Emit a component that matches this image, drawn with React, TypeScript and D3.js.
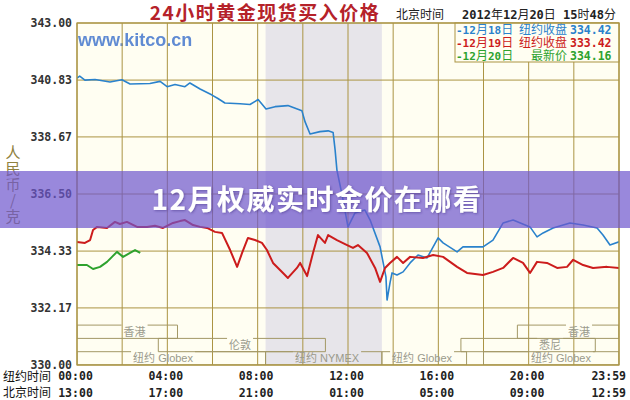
import React, { useMemo } from 'react';
import * as d3 from 'd3';

// ---------- data ----------
const yTickValues = [330, 332.17, 334.33, 336.5, 338.67, 340.83, 343];
const yTickLabels = ['330.00', '332.17', '334.33', '336.50', '338.67', '340.83', '343.00'];
const xGridHours = [0, 2, 4, 6, 8, 10, 12, 14, 16, 18, 20, 22, 24];
const xLabelHours = [0, 4, 8, 12, 16, 20, 24];
const nyLabels = ['00:00', '04:00', '08:00', '12:00', '16:00', '20:00', '23:59'];
const bjLabels = ['13:00', '17:00', '21:00', '01:00', '05:00', '09:00', '12:59'];

// [NY hour, price]
const dec18: [number, number][] = [
  [0, 340.91], [0.12, 340.98], [0.35, 340.83], [0.8, 340.85], [1.46, 340.76], [1.99, 340.84],
  [2.35, 340.68], [3.23, 340.7], [3.68, 340.78], [3.99, 340.58], [4.34, 340.66], [4.78, 340.58],
  [5.0, 340.72], [5.45, 340.49], [5.98, 340.26], [6.24, 340.13], [6.55, 339.96], [7.22, 339.93],
  [7.66, 339.9], [8.02, 340.09], [8.37, 339.73], [8.77, 339.82], [9.34, 339.86], [9.96, 339.66],
  [10.1, 339.24], [10.32, 338.78], [10.76, 338.87], [11.12, 338.9], [11.34, 338.84], [11.43, 338.17],
  [11.51, 337.41], [11.74, 336.46], [12.0, 335.25], [12.31, 335.78], [12.75, 335.89], [12.98, 335.51],
  [13.42, 334.49], [13.68, 333.35], [13.73, 332.47], [13.86, 333.12], [13.95, 333.5], [14.17, 333.42],
  [14.44, 333.54], [14.75, 333.88], [15.1, 334.18], [15.5, 334.07], [15.99, 334.83], [16.21, 334.64],
  [16.83, 334.3], [17.09, 334.49], [17.98, 334.49], [18.42, 334.75], [18.87, 335.4], [19.31, 335.51],
  [20.06, 335.25], [20.37, 334.87], [20.64, 335.02], [21.08, 335.21], [21.83, 335.4], [22.41, 335.32],
  [23.03, 335.21], [23.29, 334.94], [23.6, 334.56], [24, 334.68],
];
const dec19: [number, number][] = [
  [0, 334.68], [0.35, 334.64], [0.58, 334.75], [0.71, 335.13], [0.89, 335.25], [1.33, 335.21],
  [1.68, 335.44], [1.9, 335.36], [2.21, 335.44], [2.66, 335.25], [3.1, 335.25], [3.45, 335.29],
  [3.81, 335.21], [4.25, 335.4], [4.56, 335.47], [4.78, 335.51], [5.14, 335.32], [5.45, 335.25],
  [5.76, 335.21], [6.11, 335.06], [6.42, 335.02], [6.78, 334.37], [7.09, 333.73], [7.31, 334.26],
  [7.57, 334.83], [7.88, 334.75], [8.19, 334.64], [8.41, 334.37], [8.68, 333.88], [8.99, 333.61],
  [9.34, 333.31], [9.74, 333.69], [9.88, 333.88], [10.19, 333.38], [10.45, 334.26], [10.67, 334.94],
  [10.98, 334.64], [11.12, 334.94], [11.51, 334.75], [11.96, 334.56], [12.22, 334.45], [12.44, 334.56],
  [12.84, 334.26], [13.2, 333.69], [13.42, 333.16], [13.64, 333.69], [13.86, 333.88], [14.17, 334.11],
  [14.44, 333.88], [14.75, 334.11], [15.32, 334.07], [15.77, 334.18], [16.21, 334.11], [16.83, 333.73],
  [17.27, 333.5], [17.98, 333.42], [18.42, 333.54], [18.87, 333.69], [19.31, 334.07], [19.75, 333.88],
  [20.06, 333.5], [20.37, 333.92], [20.81, 333.88], [21.26, 333.69], [21.7, 333.73], [21.97, 334.0],
  [22.41, 333.8], [22.85, 333.69], [23.47, 333.73], [24, 333.69],
];
const dec20: [number, number][] = [
  [0, 333.8], [0.44, 333.8], [0.71, 333.65], [1.02, 333.73], [1.33, 333.92], [1.55, 334.11],
  [1.77, 334.3], [2.04, 334.11], [2.35, 334.26], [2.57, 334.37], [2.8, 334.26],
];

const legendDates = ['-12月18日', '-12月19日', '-12月20日'];
const legendNames = ['纽约收盘', '纽约收盘', '最新价'];
const legendValues = ['334.42', '333.42', '334.16'];

// trading sessions (NY hours)
const sessionNames = ['香港', '香港', '伦敦', '纽约 Globex', '纽约 NYMEX', '纽约 Globex', '悉尼', '纽约 Globex'];
const sessionRows = [0, 0, 1, 2, 2, 2, 1, 2];
const sessionStarts = [0, 19.5, 3.6, 0, 8.35, 13.5, 17.0, 18.0];
const sessionEnds = [4.45, 24, 11.0, 8.35, 13.5, 17.25, 22.95, 24];
const sessionLabelAt = [2.55, 22.23, 7.22, 3.81, 11.07, 15.28, 20.95, 21.43];

const nymexStart = 8.35;
const nymexEnd = 13.5;

// ---------- layout ----------
const W = 630, H = 400;
const PL = 77, PR = 619, PT = 23, PB = 365;
const GRID = '#ab9443';
const MONO = "'DejaVu Sans Mono', monospace";
const CJK = "'Noto Sans CJK SC', sans-serif";

function Mixed(props: { text: string; x: number; y: number; size: number; asciiSize?: number; color: string; anchor?: string }) {
  const runs = props.text.match(/[\x00-\x7F]+|[^\x00-\x7F]+/g) || [];
  return (
    <text x={props.x} y={props.y} fill={props.color} textAnchor={props.anchor || 'start'} fontSize={props.size}>
      {runs.map((r, i) => {
        const ascii = /^[\x00-\x7F]+$/.test(r);
        return (
          <tspan key={i} fontFamily={ascii ? MONO : CJK} fontWeight={ascii ? 'bold' : 'normal'} fontSize={ascii ? (props.asciiSize ?? props.size) : props.size}>
            {r}
          </tspan>
        );
      })}
    </text>
  );
}

export default function App() {
  const x = d3.scaleLinear().domain([0, 24]).range([PL, PR]);
  const y = d3.scaleLinear().domain([330, 343]).range([PB, PT]);
  const line = d3.line<[number, number]>().x((d) => x(d[0])).y((d) => y(d[1]));

  const measure = useMemo(() => {
    const ctx = document.createElement('canvas').getContext('2d');
    return (t: string) => {
      if (!ctx) return t.length * 7;
      ctx.font = "11px 'Liberation Sans', 'Noto Sans CJK SC'";
      return ctx.measureText(t).width;
    };
  }, []);

  const rowH = 13.3;
  const rowTop = (r: number) => PB - (3 - r) * rowH;

  return (
    <div style={{ position: 'fixed', left: 0, top: 0, width: W, height: H, background: '#fff' }}>
      <svg width={W} height={H} viewBox={`0 0 ${W} ${H}`} style={{ display: 'block' }}>
        <defs>
          <clipPath id="plotclip">
            <rect x={PL} y={PT} width={PR - PL} height={PB - PT} />
          </clipPath>
          <filter id="ts" x="-10%" y="-30%" width="120%" height="160%">
            <feDropShadow dx="1" dy="1" stdDeviation="1" floodColor="#3a2a80" floodOpacity="0.5" />
          </filter>
        </defs>
        <rect x={0} y={0} width={W} height={H} fill="#fff" />

        {/* title row */}
        <text x={265} y={20} textAnchor="middle" fontFamily={CJK} fontWeight="bold" fontSize={19} letterSpacing={1.5} fill="#b5222a">
          24小时黄金现货买入价格
        </text>
        <text x={396} y={19} fontFamily={CJK} fontSize={12} fill="#222">北京时间</text>
        <Mixed text="2012年12月20日 15时48分" x={462} y={19} size={12} color="#222" />

        {/* plot background */}
        <rect x={PL} y={PT} width={PR - PL} height={PB - PT} fill="#fffef2" />
        <rect x={x(nymexStart)} y={PT} width={x(nymexEnd) - x(nymexStart)} height={PB - PT} fill="#e7e5ea" />

        {/* watermark */}
        <text x={78} y={46} fontFamily="'Liberation Sans', Arial, sans-serif" fontWeight="bold" fontSize={18} fill="#4f7fd0" opacity={0.9}>
          www.kitco.cn
        </text>

        {/* grid */}
        {xGridHours.map((h) => (
          <line key={'gx' + h} x1={x(h)} x2={x(h)} y1={PT} y2={PB} stroke={GRID} strokeWidth={1} />
        ))}
        {yTickValues.map((v) => (
          <line key={'gy' + v} x1={PL} x2={PR} y1={y(v)} y2={y(v)} stroke={GRID} strokeWidth={1} />
        ))}

        {/* sessions */}
        <g clipPath="url(#plotclip)">
          {sessionNames.map((name, i) => {
            const x0 = x(sessionStarts[i]);
            const x1 = x(sessionEnds[i]);
            const top = rowTop(sessionRows[i]);
            const bot = top + rowH;
            const lc = x(sessionLabelAt[i]);
            const w = measure(name);
            const gL = lc - w / 2 - 2;
            const gR = lc + w / 2 + 2;
            const d = `M${x0},${top}H${gL}M${gR},${top}H${x1}M${x1},${top}V${bot}M${x0},${top}V${bot}M${x0},${bot}H${x1}`;
            return (
              <g key={'s' + i}>
                <path d={d} fill="none" stroke="#a39866" strokeWidth={1} />
                <text x={lc} y={top + 10.5} textAnchor="middle" fontFamily="'Liberation Sans', 'Noto Sans CJK SC', sans-serif" fontSize={11} fill="#9a9a8c">
                  {name}
                </text>
              </g>
            );
          })}
        </g>

        {/* data lines */}
        <g clipPath="url(#plotclip)">
          <path d={line(dec18) || ''} fill="none" stroke="#2a82cc" strokeWidth={1.6} strokeLinejoin="round" />
          <path d={line(dec19) || ''} fill="none" stroke="#cc1c1c" strokeWidth={2} strokeLinejoin="round" />
          <path d={line(dec20) || ''} fill="none" stroke="#2ea22e" strokeWidth={2} strokeLinejoin="round" />
        </g>

        {/* legend */}
        <rect x={455} y={PT} width={PR - 455} height={39} fill="#fffef2" stroke={GRID} strokeWidth={1} />
        {legendDates.map((d, i) => {
          const col = ['#2a82cc', '#cc1c1c', '#2ea22e'][i];
          const yy = 33.5 + i * 13.3;
          return (
            <g key={'lg' + i}>
              <Mixed text={d} x={456} y={yy} size={12} asciiSize={11} color={col} />
              <text x={567} y={yy} textAnchor="end" fontFamily={CJK} fontSize={12} fill={col}>{legendNames[i]}</text>
              <text x={570} y={yy} fontFamily={MONO} fontWeight="bold" fontSize={11.5} fill={col}>{legendValues[i]}</text>
            </g>
          );
        })}

        {/* border */}
        <rect x={PL} y={PT} width={PR - PL} height={PB - PT} fill="none" stroke={GRID} strokeWidth={1.2} />

        {/* y axis labels */}
        {yTickValues.map((v, i) => (
          <text key={'yl' + i} x={72} y={y(v) + 4} textAnchor="end" fontFamily={MONO} fontWeight="bold" fontSize={11.5} fill="#333">
            {yTickLabels[i]}
          </text>
        ))}
        <text
          x={13}
          y={145}
          fontFamily={CJK}
          fontSize={15}
          fill="#8f8240"
          letterSpacing={1}
          style={{ writingMode: 'vertical-rl', textOrientation: 'upright' } as React.CSSProperties}
        >
          人民币/克
        </text>

        {/* x axis labels */}
        <text x={3} y={381} fontFamily={CJK} fontSize={12} fill="#111">纽约时间</text>
        <text x={3} y={397} fontFamily={CJK} fontSize={12} fill="#111">北京时间</text>
        {xLabelHours.map((h, i) => {
          const last = i === xLabelHours.length - 1;
          const xx = last ? x(h) + 7 : x(h) - 1.5;
          const anchor = last ? 'end' : 'middle';
          return (
            <g key={'xl' + i}>
              <text x={xx} y={380} textAnchor={anchor} fontFamily={MONO} fontWeight="bold" fontSize={11.5} fill="#222">{nyLabels[i]}</text>
              <text x={xx} y={397} textAnchor={anchor} fontFamily={MONO} fontWeight="bold" fontSize={11.5} fill="#222">{bjLabels[i]}</text>
            </g>
          );
        })}

        {/* overlay banner */}
        <rect x={0} y={171} width={W} height={57} fill="rgb(110,85,205)" fillOpacity={0.7} />
        <text x={317} y={210} textAnchor="middle" fontFamily={CJK} fontWeight="bold" fontSize={28} letterSpacing={1.5} fill="#fff" filter="url(#ts)">
          12月权威实时金价在哪看
        </text>
      </svg>
    </div>
  );
}
